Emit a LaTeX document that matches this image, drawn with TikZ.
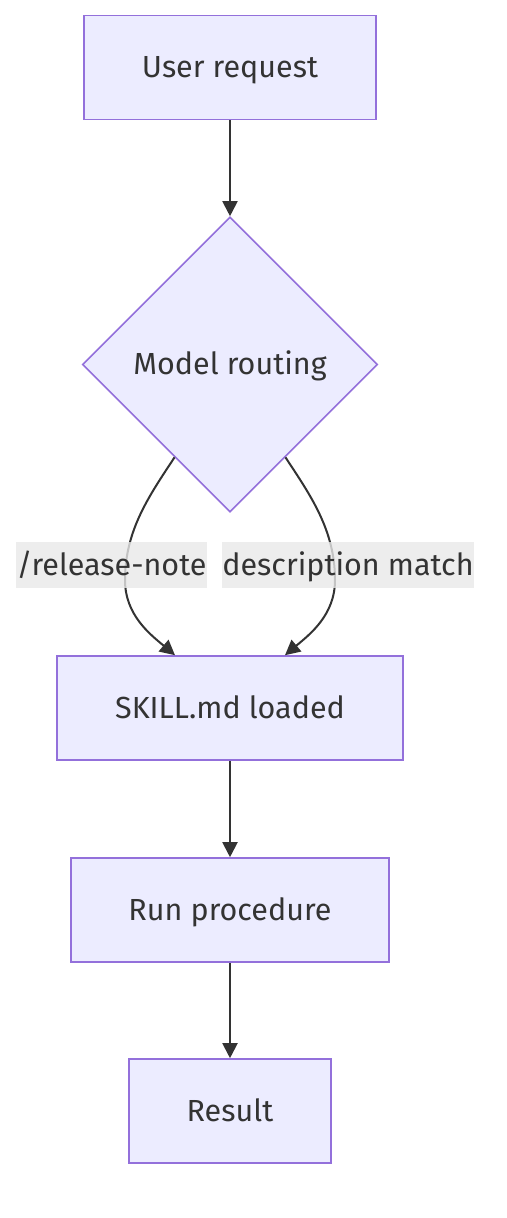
\documentclass[tikz,border=0pt]{standalone}
\usepackage{fontspec}
\setmainfont{Fira Sans}
\usetikzlibrary{shapes.geometric,arrows.meta,calc}
\definecolor{nodefill}{HTML}{ECECFF}
\definecolor{nodeline}{HTML}{9370DB}
\definecolor{edgecol}{HTML}{333333}
\definecolor{lblbg}{HTML}{E8E8E8}
\begin{document}
\begin{tikzpicture}[x=1pt,y=-1pt,
  txt/.style={text=edgecol, font=\fontsize{30.5}{36}\selectfont, text height=20pt, text depth=0pt},
  box/.style={txt, draw=nodeline, fill=nodefill, line width=1.6pt, inner sep=0pt, minimum height=104pt},
  dia/.style={txt, shape=diamond, aspect=1, draw=nodeline, fill=nodefill, line width=1.6pt, inner sep=0pt, minimum width=295pt, minimum height=295pt},
  lbl/.style={txt, fill=lblbg, fill opacity=0.8, text opacity=1, inner sep=0pt, minimum height=46pt},
  conn/.style={draw=edgecol, line width=2pt, -{Triangle[length=15pt,width=15pt]}}
]
\useasboundingbox (0,0) rectangle (506,1218);
\node[box, minimum width=292pt] (u) at (230,67.5) {User request};
\node[dia] (d) at (230,364.5) {Model routing};
\node[box, minimum width=346pt] (s) at (230,708) {SKILL.md loaded};
\node[box, minimum width=318pt] (r) at (230,910) {Run procedure};
\node[box, minimum width=202pt] (res) at (230,1111) {Result};

\draw[conn] (u.south) -- (d.north);
\coordinate (la) at ($(d.south)!0.374!(d.west)$);
\coordinate (lb) at ($(s.north)+(-55,0)$);
\coordinate (ra) at ($(d.south)!0.374!(d.east)$);
\coordinate (rb) at ($(s.north)+(55,0)$);
\draw[conn] (la) .. controls ($(la)+(-25,38)$) and (125,530) .. (125,580)
  .. controls (125,615) and ($(lb)+(-25,-21)$) .. (lb);
\draw[conn] (ra) .. controls ($(ra)+(25,38)$) and (335,530) .. (335,580)
  .. controls (335,615) and ($(rb)+(25,-21)$) .. (rb);
\draw[conn] (s.south) -- (r.north);
\draw[conn] (r.south) -- (res.north);

\node[lbl, minimum width=191pt] (l1) at (111.5,565) {/release-note};
\node[lbl, minimum width=250pt] (l2) at (348,565) {description match};
\end{tikzpicture}
\end{document}
